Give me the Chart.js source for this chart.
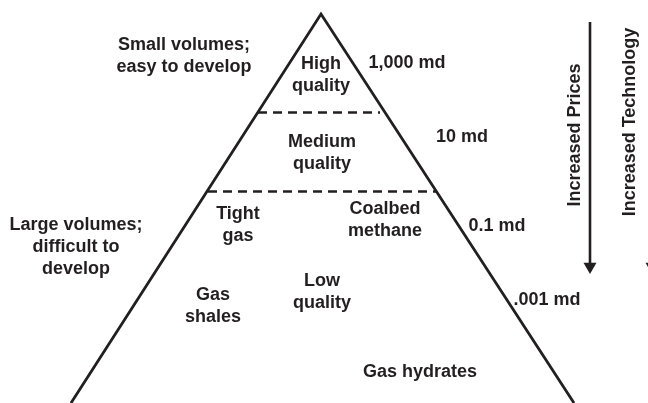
<!DOCTYPE html>
<html>
<head>
<meta charset="utf-8">
<script src="https://cdn.jsdelivr.net/npm/chart.js@4/dist/chart.umd.min.js"></script>
<style>
  html, body { margin: 0; padding: 0; background: #fff; }
  #wrap { width: 648px; height: 403px; }
</style>
</head>
<body>
<div id="wrap"><canvas id="c" width="648" height="403"></canvas></div>
<script>
// resource triangle - drawn on a plain 0..648 x 0..403 grid

// --- data ---
const triangle = [{ x: 71, y: 403 }, { x: 321, y: 14 }, { x: 574, y: 403 }];
const cutHigh = [{ x: 258, y: 112.5 }, { x: 380, y: 112.5 }];
const cutMedium = [{ x: 208, y: 191.5 }, { x: 437, y: 191.5 }];
const priceShaft = [{ x: 590, y: 22 }, { x: 590, y: 264 }];
const arrowTips = [{ x: 590, y: 266.5 }, { x: 652, y: 266.5 }];   // second one is the technology arrow, mostly off the page
const techShaft = [{ x: 652, y: 22 }, { x: 652, y: 264 }];

// text blocks: lines + anchor
const areaLabels = [
  { lines: ['Small volumes;', 'easy to develop'], x: 184, y: 45 },
  { lines: ['High', 'quality'], x: 321, y: 64 },
  { lines: ['Medium', 'quality'], x: 322, y: 142 },
  { lines: ['Large volumes;', 'difficult to', 'develop'], x: 76, y: 225 },
  { lines: ['Tight', 'gas'], x: 238, y: 214 },
  { lines: ['Coalbed', 'methane'], x: 385, y: 209 },
  { lines: ['Low', 'quality'], x: 322, y: 281 },
  { lines: ['Gas', 'shales'], x: 213, y: 295 },
  { lines: ['Gas hydrates'], x: 420, y: 372 }
];
const permLabels = ['1,000 md', '10 md', '0.1 md', '.001 md'];
const permX = [407, 462, 497, 547];
const permY = [63, 137, 226, 300];
const sideLabels = ['Increased Prices', 'Increased Technology'];
const sideX = [575, 630];
const sideY = [135, 122];

// --- text plugin ---
const FONT = 'bold 18px "Liberation Sans", Arial, sans-serif';
const LINE_H = 22;
const ink = '#231f20';

const textPlugin = {
  id: 'diagramText',
  afterDatasetsDraw(chart) {
    const ctx = chart.ctx;
    const sx = chart.scales.x, sy = chart.scales.y;
    ctx.save();
    ctx.font = FONT;
    ctx.fillStyle = ink;
    ctx.textAlign = 'center';
    ctx.textBaseline = 'middle';

    areaLabels.forEach(l => {
      l.lines.forEach((s, i) => {
        ctx.fillText(s, sx.getPixelForValue(l.x), sy.getPixelForValue(l.y) + i * LINE_H);
      });
    });

    permLabels.forEach((s, i) => {
      ctx.fillText(s, sx.getPixelForValue(permX[i]), sy.getPixelForValue(permY[i]));
    });

    sideLabels.forEach((s, i) => {
      ctx.save();
      ctx.translate(sx.getPixelForValue(sideX[i]), sy.getPixelForValue(sideY[i]));
      ctx.rotate(-Math.PI / 2);
      ctx.fillText(s, 0, 0);
      ctx.restore();
    });
    ctx.restore();
  }
};

new Chart(document.getElementById('c').getContext('2d'), {
  type: 'scatter',
  data: {
    datasets: [
      { data: triangle, showLine: true, borderColor: ink, borderWidth: 2.8, pointRadius: 0, tension: 0 },
      { data: cutHigh, showLine: true, borderColor: ink, borderWidth: 2.6, borderDash: [9, 6], pointRadius: 0 },
      { data: cutMedium, showLine: true, borderColor: ink, borderWidth: 2.6, borderDash: [9, 6], pointRadius: 0 },
      { data: priceShaft, showLine: true, borderColor: ink, borderWidth: 2.6, pointRadius: 0 },
      { data: techShaft, showLine: true, borderColor: ink, borderWidth: 2.6, pointRadius: 0 },
      { data: arrowTips, pointStyle: 'triangle', rotation: 180, pointRadius: 7.5, borderWidth: 0, backgroundColor: ink }
    ]
  },
  options: {
    responsive: false,
    animation: false,
    layout: { padding: 0, autoPadding: false },
    plugins: { legend: { display: false }, tooltip: { enabled: false } },
    scales: {
      x: { type: 'linear', min: 0, max: 648, display: false },
      y: { type: 'linear', min: 0, max: 403, reverse: true, display: false }
    }
  },
  plugins: [textPlugin]
});
</script>
</body>
</html>
